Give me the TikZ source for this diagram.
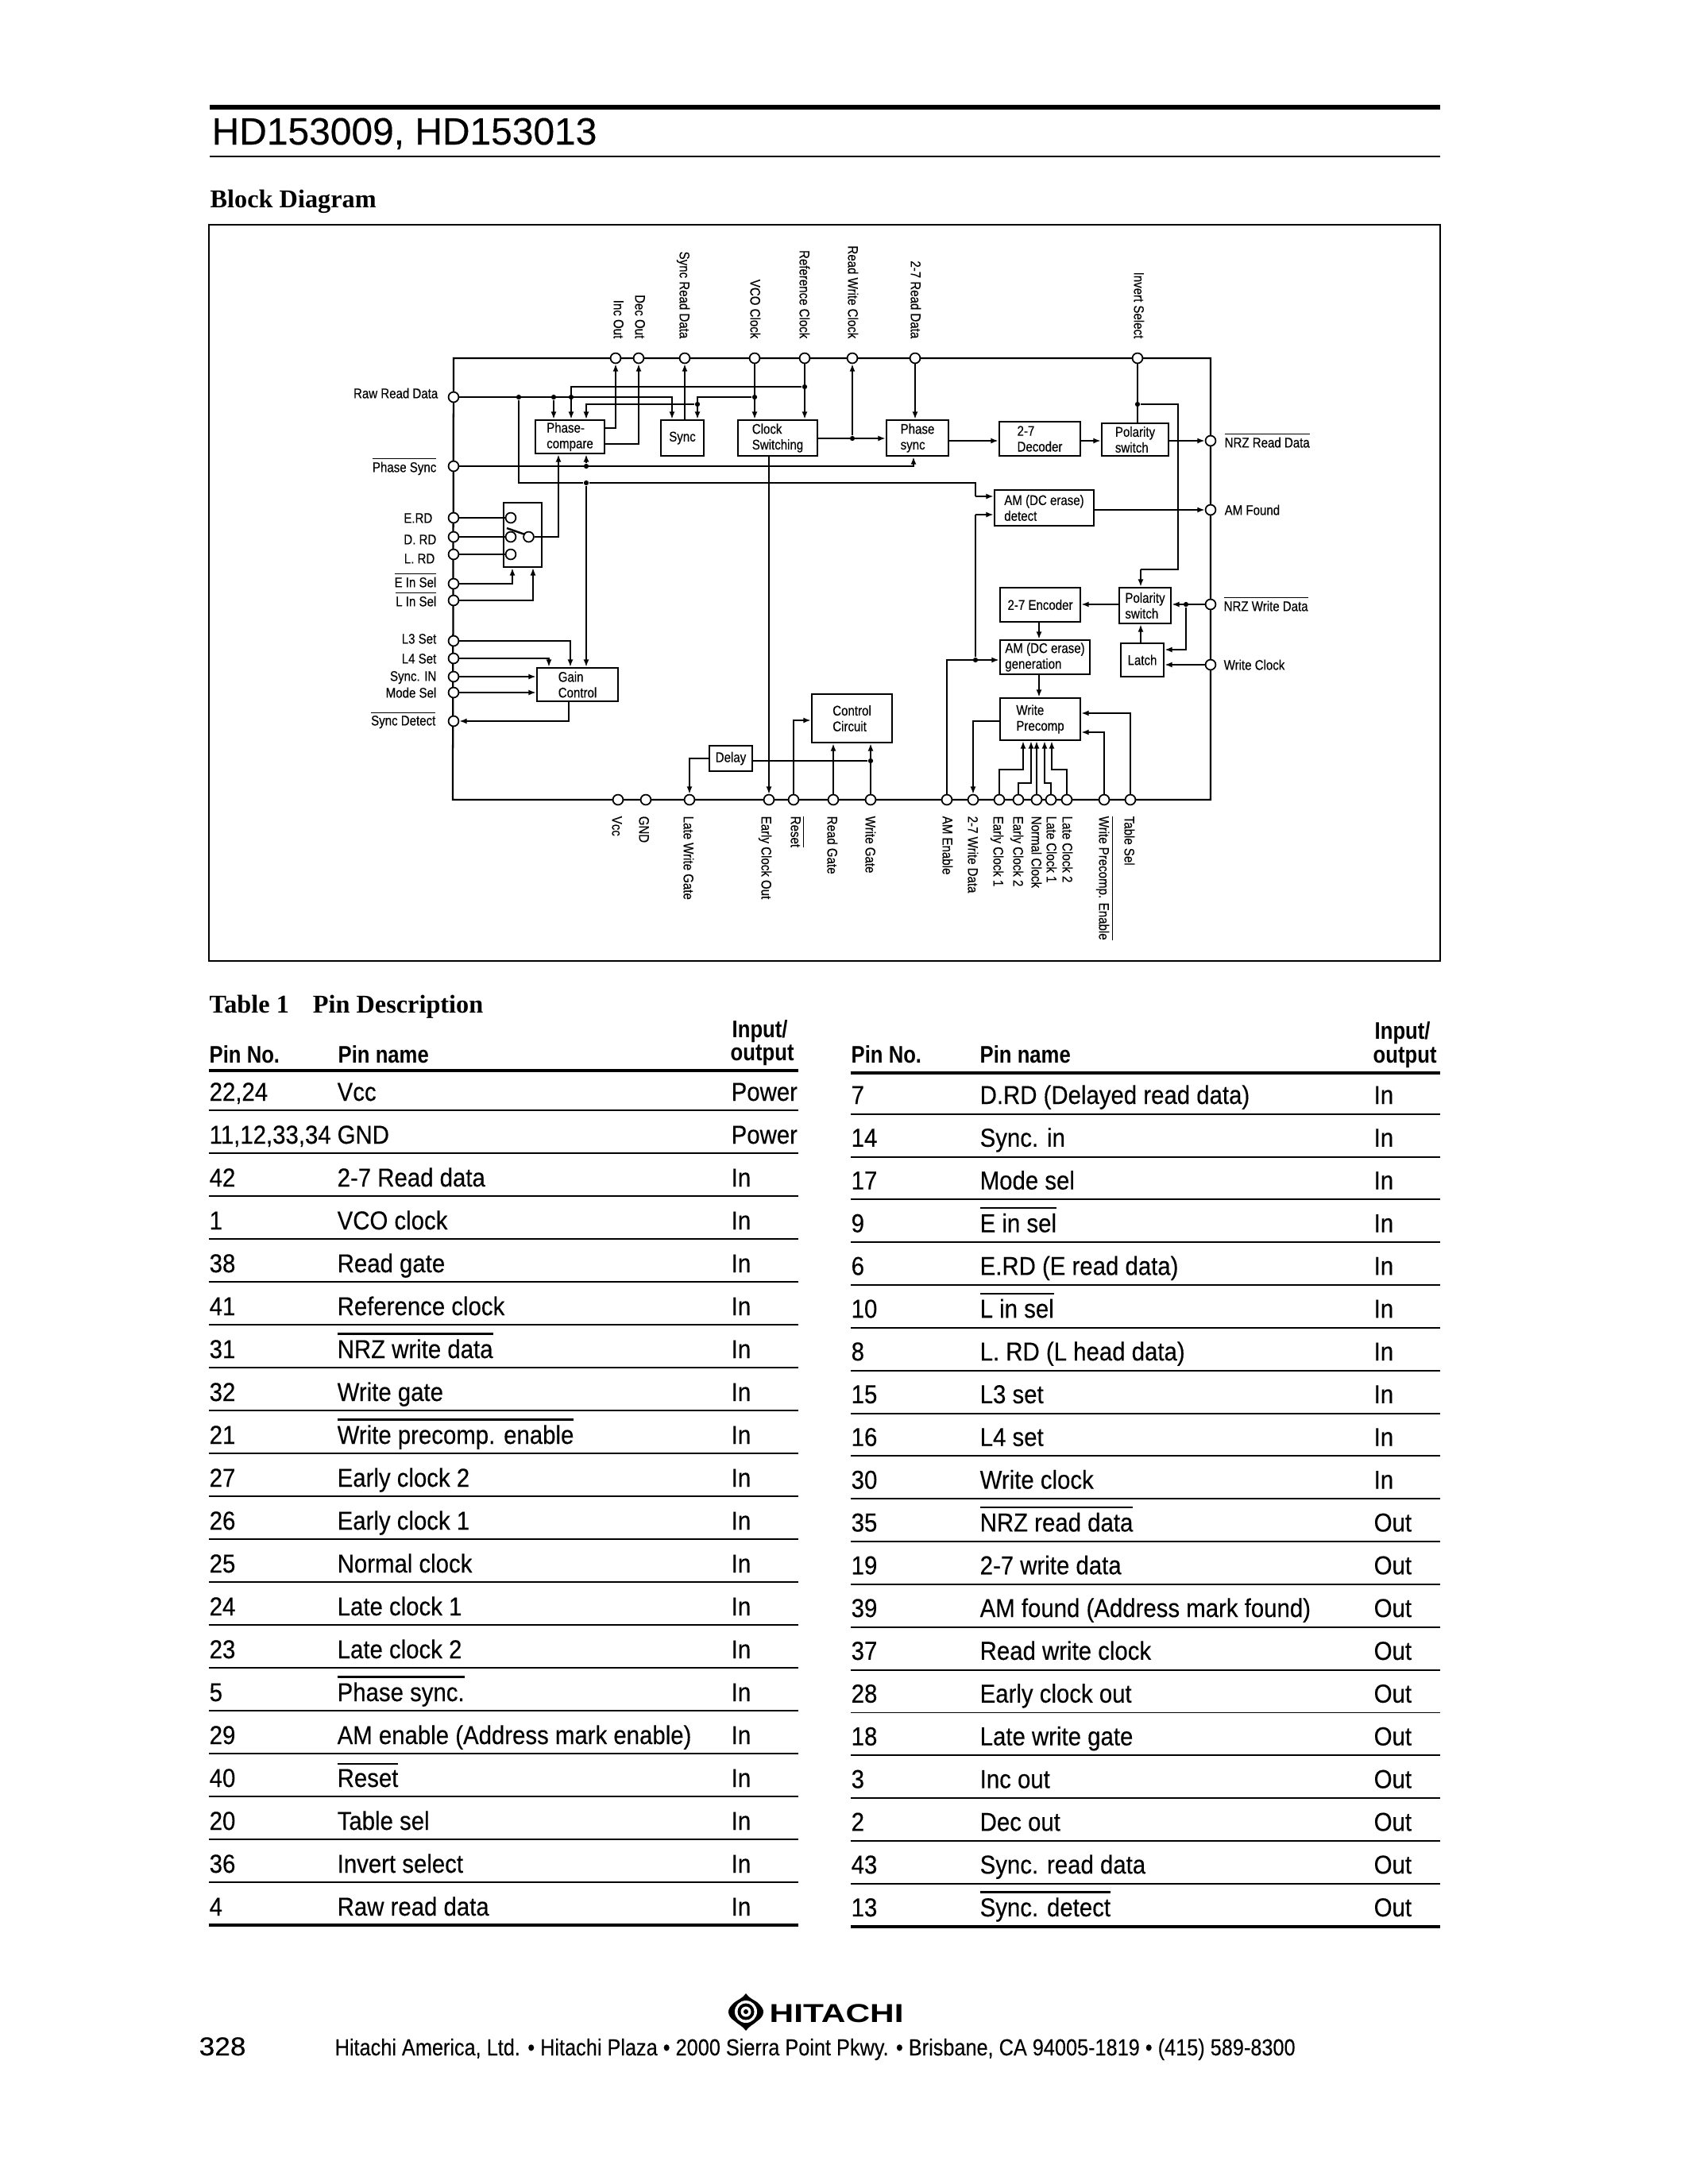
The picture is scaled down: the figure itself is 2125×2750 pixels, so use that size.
\documentclass[tikz,border=0pt]{standalone}
\usepackage{fontspec}
\usetikzlibrary{arrows.meta}
\setmainfont{Liberation Sans}
\newfontfamily\dgf[FakeStretch=0.85,FakeBold=0.25]{Liberation Sans}
\newfontfamily\tcf[FakeStretch=0.90,FakeBold=0.25]{Liberation Sans}
\newfontfamily\thf[FakeStretch=0.85]{Liberation Sans}
\newfontfamily\addrf[FakeStretch=0.867,FakeBold=0.15]{Liberation Sans}
\newfontfamily\wide[FakeStretch=1.3]{Liberation Sans}
\newfontfamily\pnof[FakeStretch=1.08,FakeBold=0.2]{Liberation Sans}
\newfontfamily\ttlf[FakeBold=0.3]{Liberation Sans}
\newfontfamily\srf{Liberation Serif}
\newcommand\ob[1]{\leavevmode\vbox{\hrule height 0.4pt\kern 0.9pt\hbox{#1}}}
\newcommand\tb[1]{\leavevmode\vbox{\hrule height 0.7pt\kern 1.6pt\hbox{#1}}}
\tikzset{
  x=0.288pt,y=-0.288pt,
  dgtext/.style={font=\dgf\fontsize{5.1}{5.7}\selectfont,inner sep=0pt},
  toplab/.style={dgtext,rotate=-90,anchor=east,text height=3.7pt,text depth=0pt},
  botlab/.style={dgtext,rotate=-90,anchor=west,text height=3.7pt,text depth=0pt},
  leftlab/.style={dgtext,anchor=east,text height=3.7pt,text depth=0pt},
  rightlab/.style={dgtext,anchor=west,text height=3.7pt,text depth=0pt},
  pin/.style={circle,draw,fill=white,line width=0.5pt,inner sep=0pt,minimum size=3.7pt},
  jdot/.style={circle,fill=black,inner sep=0pt,minimum size=1.8pt},
  blk/.style={draw,fill=white,line width=0.7pt,inner sep=0pt,align=left,dgtext},
  busl/.style={line width=0.65pt},
  wire/.style={line width=0.5pt},
  arr/.style={wire,-{Latex[length=2.7pt,width=2pt]}},
  tcell/.style={font=\tcf\fontsize{9.4}{10}\selectfont,inner sep=0pt,anchor=base west},
  thead/.style={font=\thf\bfseries\fontsize{8.7}{10}\selectfont,inner sep=0pt,anchor=base west},
  trule/.style={line width=0.55pt},
  tthick/.style={line width=1.05pt},
}
\newcommand\blkn[6]{\node[blk,minimum width={(#4-#2)*0.288pt},minimum height={(#5-#3)*0.288pt}] (#1) at ({(#2+#4)/2},{(#3+#5)/2}) {#6};}
\newcommand\lrow[4]{\pgfmathsetmacro\ry{1398+54*(#1-1)}
  \node[tcell] (la#1) at (263,\ry-12) {#2};
  \node[tcell] (lb#1) at (424,\ry-12) {#3};
  \node[tcell] (lc#1) at (920,\ry-12) {#4};
  \draw[trule] (263,\ry) -- (1005,\ry);}
\newcommand\rrow[4]{\pgfmathsetmacro\ry{1402.7+53.84*(#1-1)}
  \node[tcell] (ra#1) at (1071,\ry-12.7) {#2};
  \node[tcell] (rb#1) at (1233,\ry-12.7) {#3};
  \node[tcell] (rc#1) at (1729,\ry-12.7) {#4};
  \draw[trule] (1071,\ry) -- (1813,\ry);}
\begin{document}
\begin{tikzpicture}
\useasboundingbox (0,0) rectangle (2125,2750);
\fill[white] (0,0) rectangle (2125,2750);
% header
\draw[line width=1.45pt] (264,135) -- (1813,135);
\node[inner sep=0pt,anchor=base west,font=\ttlf\fontsize{13.8}{16}\selectfont] (title) at (266,182) {HD153009, HD153013};
\draw[line width=0.55pt] (264,197) -- (1813,197);
\node[inner sep=0pt,anchor=base west,font=\srf\bfseries\fontsize{9.3}{11}\selectfont] (bdtitle) at (264,261) {Block Diagram};
\draw[line width=0.55pt] (263,283) rectangle (1813,1210);
% outer pin bus
\coordinate (ctl) at (571,451);
\coordinate (ctr) at (1524,451);
\coordinate (cbr) at (1524,1007);
\coordinate (cbl) at (570,1007);
\draw[busl] (ctl) -- (ctr) -- (cbr) -- (cbl) -- cycle;
% top pins
\foreach \n/\x in {incout/775,decout/804,syncrd/862,vco/950,refclk/1013,rwclk/1073,rdtwo/1152,invert/1432}
  \node[pin] (\n) at (\x,451) {};
% left pins
\foreach \n/\y in {rawrd/500,phsync/587,erd/652,drd/676,lrd/698,einsel/735,linsel/756,lthree/807,lfour/829,syncin/852,modesel/872,syncdet/908}
  \node[pin] (\n) at (571,\y) {};
% bottom pins
\foreach \n/\x in {vcc/778,gnd/813,lwg/868,ecout/968,reset/999,rgate/1049,wgate/1096,amen/1192,wdtwo/1225,econe/1258,ectwo/1282,nclk/1305,lcone/1323,lctwo/1343,wpe/1390,tsel/1423}
  \node[pin] (\n) at (\x,1007) {};
% right pins
\foreach \n/\y in {nrzrd/555,amf/642,nrzwd/761,wck/837}
  \node[pin] (\n) at (1524,\y) {};
% top labels
\node[toplab] (tl1) at (779,427) {Inc Out};
\node[toplab] (tl2) at (806,427) {Dec Out};
\node[toplab] (tl3) at (862,427) {Sync Read Data};
\node[toplab] (tl4) at (951,427) {VCO Clock};
\node[toplab] (tl5) at (1013,427) {Reference Clock};
\node[toplab] (tl6) at (1074,427) {Read Write Clock};
\node[toplab] (tl7) at (1153,427) {2-7 Read Data};
\node[toplab] (tl8) at (1434,427) {Invert Select};
% left labels
\node[leftlab] (ll1) at (552,495) {Raw Read Data};
\node[leftlab] (ll2) at (550,588) {\ob{Phase Sync}};
\node[leftlab] (ll3) at (545,652) {E.RD};
\node[leftlab] (ll4) at (550,679) {D. RD};
\node[leftlab] (ll5) at (548,703) {L. RD};
\node[leftlab] (ll6) at (550,733) {\ob{E In Sel}};
\node[leftlab] (ll7) at (550,757) {\ob{L In Sel}};
\node[leftlab] (ll8) at (550,804) {L3 Set};
\node[leftlab] (ll9) at (550,829) {L4 Set};
\node[leftlab] (ll10) at (550,851) {Sync. IN};
\node[leftlab] (ll11) at (550,872) {Mode Sel};
\node[leftlab] (ll12) at (549,907) {\ob{Sync Detect}};
% right labels
\node[rightlab] (rl1) at (1541,557) {\ob{NRZ Read Data}};
\node[rightlab] (rl2) at (1541,642) {AM Found};
\node[rightlab] (rl3) at (1540,763) {\ob{NRZ Write Data}};
\node[rightlab] (rl4) at (1540,837) {Write Clock};
% bottom labels
\node[botlab] (bl1) at (777,1027) {Vcc};
\node[botlab] (bl2) at (811,1027) {GND};
\node[botlab] (bl3) at (867,1027) {Late Write Gate};
\node[botlab] (bl4) at (965,1027) {Early Clock Out};
\node[botlab] (bl5) at (1002,1027) {\ob{Reset}};
\node[botlab] (bl6) at (1048,1027) {Read Gate};
\node[botlab] (bl7) at (1096,1027) {Write Gate};
\node[botlab] (bl8) at (1193,1027) {AM Enable};
\node[botlab] (bl9) at (1225,1027) {2-7 Write Data};
\node[botlab] (bl10) at (1257,1027) {Early Clock 1};
\node[botlab] (bl11) at (1282,1027) {Early Clock 2};
\node[botlab] (bl12) at (1305,1027) {Normal Clock};
\node[botlab] (bl13) at (1324,1027) {Late Clock 1};
\node[botlab] (bl14) at (1344,1027) {Late Clock 2};
\node[botlab] (bl15) at (1390,1027) {\ob{Write Precomp. Enable}};
\node[botlab] (bl16) at (1422,1027) {Table Sel};
% blocks
\blkn{pc}{674}{529}{761}{571}{Phase-\\compare}
\blkn{sy}{832}{529}{886}{574}{Sync}
\blkn{cs}{929}{529}{1029}{574}{Clock\\Switching}
\blkn{ps}{1116}{529}{1194}{574}{Phase\\sync}
\blkn{dc}{1258}{531}{1360}{574}{2-7\\Decoder}
\blkn{pol}{1387}{533}{1471}{574}{Polarity\\switch}
\blkn{ad}{1252}{617}{1377}{662}{AM (DC erase)\\detect}
\blkn{en}{1259}{740}{1360}{783}{2-7 Encoder}
\blkn{pot}{1409}{740}{1474}{785}{Polarity\\switch}
\blkn{ag}{1259}{806}{1372}{849}{AM (DC erase)\\generation}
\blkn{la}{1411}{810}{1465}{852}{Latch}
\blkn{wp}{1259}{879}{1360}{932}{Write\\Precomp}
\blkn{cc}{1022}{874}{1123}{935}{Control\\Circuit}
\blkn{dl}{893}{939}{947}{971}{Delay}
\blkn{gc}{676}{841}{778}{883}{Gain\\Control}
\blkn{sw}{634}{633}{682}{714}{}
% switch
\node[pin] (cone) at (643,652) {};
\node[pin] (ctwo) at (643,676) {};
\node[pin] (cthree) at (643,698) {};
\node[pin] (cfour) at (665.5,676) {};
\draw[line width=0.7pt] (638,665) -- (661,673);
\draw[wire] (erd) -- (cone);
\draw[wire] (drd) -- (ctwo);
\draw[wire] (lrd) -- (cthree);
\draw[arr] (cfour) -| (703,0 |- pc.south);
\draw[arr] (einsel) -| (645,0 |- sw.south);
\draw[arr,line width=0.4pt] (linsel) -| (671,0 |- sw.south);
% junctions
\node[jdot] (jraw) at (653,500) {};
\node[jdot] (jcmpa) at (697,500) {};
\node[jdot] (jcmpb) at (719,500) {};
\node[jdot] (jvco) at (950,500) {};
\node[jdot] (jsync) at (878,509) {};
\node[jdot] (jref) at (1013,487) {};
\node[jdot] (jrw) at (1073,552) {};
\node[jdot] (jph) at (738,587) {};
\node[jdot] (jgc) at (738,608) {};
\node[jdot] (jinv) at (1432,509) {};
\node[jdot] (jam) at (1228,831) {};
\node[jdot] (jwd) at (1493,761) {};
\node[jdot] (jwg) at (1096,958) {};
% raw read data net
\draw[arr] (rawrd) -| (846,0 |- sy.north);
\draw[arr] (jcmpa) -- (jcmpa |- pc.north);
\draw[arr] (jref) -| (719,0 |- pc.north);
\draw[wire] (jraw) |- (jgc) -- (1228,608) -- (1228,625);
\draw[arr] (1228,625) -- (ad.west |- 0,625);
\draw[arr] (jvco) -| (878,0 |- sy.north);
\draw[arr,line width=0.4pt] (jsync) -| (738,0 |- pc.north);
\draw[arr] (862,0 |- sy.north) -- (syncrd);
\draw[arr] (pc.east |- 0,539) -| (incout);
\draw[arr] (pc.east |- 0,559) -| (decout);
\draw[arr] (vco) -- (950,0 |- cs.north);
\draw[arr] (refclk) -- (1013,0 |- cs.north);
\draw[arr] (jrw) -- (rwclk);
\draw[arr] (rdtwo) -- (1152,0 |- ps.north);
\draw[arr] (cs.east |- jrw) -- (ps.west |- jrw);
\draw[arr] (ps.east |- 0,555) -- (dc.west |- 0,555);
\draw[arr] (dc.east |- 0,555) -- (pol.west |- 0,555);
\draw[arr] (pol.east |- 0,555) -- (nrzrd);
% phase sync
\draw[arr] (phsync) -| (1150,0 |- ps.south);
\draw[arr] (jph) -- (738,0 |- pc.south);
\draw[arr] (jgc) -- (738,0 |- gc.north);
% invert select
\draw[wire] (invert) -- (1432,0 |- pol.north);
\draw[wire,line width=0.4pt] (jinv) -| (1483,717) -- (1436,717);
\draw[arr] (1436,717) -- (1436,0 |- pot.north);
% clock switching to early clock out
\draw[arr,line width=0.4pt] (968,0 |- cs.south) -- (ecout);
% gain control
\draw[arr] (lthree) -| (718,0 |- gc.north);
\draw[arr] (lfour) -| (691,0 |- gc.north);
\draw[arr] (syncin) -- (gc.west |- syncin);
\draw[arr] (modesel) -- (gc.west |- modesel);
\draw[arr] (716,0 |- gc.south) |- (syncdet);
% delay and control
\draw[arr] (dl.west |- 0,955) -| (lwg);
\draw[wire] (dl.east |- jwg) -- (jwg);
\draw[arr] (wgate) -- (1096,0 |- cc.south);
\draw[arr] (rgate) -- (1049,0 |- cc.south);
\draw[arr] (reset) |- (cc.west |- 0,907);
% am
\draw[arr] (amen) |- (ag.west |- jam);
\draw[wire,line width=0.4pt] (jam) -- (1228,648);
\draw[arr] (1228,648) -- (ad.west |- 0,648);
\draw[arr] (ad.east |- amf) -- (amf);
% write path
\draw[arr] (pot.west |- nrzwd) -- (en.east |- nrzwd);
\draw[arr] (1308,0 |- en.south) -- (1308,0 |- ag.north);
\draw[arr] (1308,0 |- ag.south) -- (1308,0 |- wp.north);
\draw[arr] (nrzwd) -- (pot.east |- nrzwd);
\draw[arr] (jwd) |- (la.east |- 0,818);
\draw[arr] (wck) -- (la.east |- wck);
\draw[arr] (1436,0 |- la.north) -- (1436,0 |- pot.south);
\draw[arr,line width=0.4pt] (wp.west |- 0,908) -| (wdtwo);
\draw[arr] (tsel) |- (wp.east |- 0,898);
\draw[arr] (wpe) |- (wp.east |- 0,922);
\draw[arr] (econe) |- (1288,969) -- (1288,0 |- wp.south);
\draw[arr] (ectwo) |- (1298,986) -- (1298,0 |- wp.south);
\draw[arr] (nclk) -- (1305,0 |- wp.south);
\draw[arr] (lcone) |- (1315,986) -- (1315,0 |- wp.south);
\draw[arr] (lctwo) |- (1324,969) -- (1324,0 |- wp.south);
% table title and headers
\node[inner sep=0pt,anchor=base west,font=\srf\bfseries\fontsize{9.3}{11}\selectfont] (tt) at (263,1275) {Table 1\hspace{0.93em}Pin Description};
\node[thead] (h1) at (263,1338) {Pin No.};
\node[thead] (h2) at (425,1338) {Pin name};
\node[thead] (h3) at (921,1306) {Input/};
\node[thead] (h4) at (919,1335) {output};
\draw[tthick] (263,1348) -- (1005,1348);
\node[thead] (h5) at (1071,1338) {Pin No.};
\node[thead] (h6) at (1233,1338) {Pin name};
\node[thead] (h7) at (1730,1308) {Input/};
\node[thead] (h8) at (1728,1338) {output};
\draw[tthick] (1071,1351) -- (1813,1351);
% left table
\lrow{1}{22,24}{Vcc}{Power}
\lrow{2}{11,12,33,34}{GND}{Power}
\lrow{3}{42}{2-7 Read data}{In}
\lrow{4}{1}{VCO clock}{In}
\lrow{5}{38}{Read gate}{In}
\lrow{6}{41}{Reference clock}{In}
\lrow{7}{31}{\tb{NRZ write data}}{In}
\lrow{8}{32}{Write gate}{In}
\lrow{9}{21}{\tb{Write precomp. enable}}{In}
\lrow{10}{27}{Early clock 2}{In}
\lrow{11}{26}{Early clock 1}{In}
\lrow{12}{25}{Normal clock}{In}
\lrow{13}{24}{Late clock 1}{In}
\lrow{14}{23}{Late clock 2}{In}
\lrow{15}{5}{\tb{Phase sync.}}{In}
\lrow{16}{29}{AM enable (Address mark enable)}{In}
\lrow{17}{40}{\tb{Reset}}{In}
\lrow{18}{20}{Table sel}{In}
\lrow{19}{36}{Invert select}{In}
\lrow{20}{4}{Raw read data}{In}
\draw[tthick] (263,2424) -- (1005,2424);
% right table
\rrow{1}{7}{D.RD (Delayed read data)}{In}
\rrow{2}{14}{Sync. in}{In}
\rrow{3}{17}{Mode sel}{In}
\rrow{4}{9}{\tb{E in sel}}{In}
\rrow{5}{6}{E.RD (E read data)}{In}
\rrow{6}{10}{\tb{L in sel}}{In}
\rrow{7}{8}{L. RD (L head data)}{In}
\rrow{8}{15}{L3 set}{In}
\rrow{9}{16}{L4 set}{In}
\rrow{10}{30}{Write clock}{In}
\rrow{11}{35}{\tb{NRZ read data}}{Out}
\rrow{12}{19}{2-7 write data}{Out}
\rrow{13}{39}{AM found (Address mark found)}{Out}
\rrow{14}{37}{Read write clock}{Out}
\rrow{15}{28}{Early clock out}{Out}
\rrow{16}{18}{Late write gate}{Out}
\rrow{17}{3}{Inc out}{Out}
\rrow{18}{2}{Dec out}{Out}
\rrow{19}{43}{Sync. read data}{Out}
\rrow{20}{13}{\tb{Sync. detect}}{Out}
\draw[tthick] (1071,2425.7) -- (1813,2425.7);
% footer
\fill (939,2510) .. controls (943,2516) and (949,2518) .. (953,2521) .. controls (959,2526) and (961,2530) .. (961,2533) .. controls (961,2537) and (959,2541) .. (953,2545) .. controls (949,2549) and (943,2551) .. (939,2557) .. controls (935,2551) and (929,2549) .. (925,2545) .. controls (919,2541) and (917,2537) .. (917,2533) .. controls (917,2530) and (919,2526) .. (925,2521) .. controls (929,2518) and (935,2516) .. (939,2510) -- cycle;
\fill[white] (939,2533) circle[radius=14];
\fill (939,2533) circle[radius=10.5];
\fill[white] (939,2533) circle[radius=6.5];
\fill (939,2533) circle[radius=3];
\node[inner sep=0pt,anchor=base west,font=\wide\bfseries\fontsize{9.4}{11}\selectfont] (hit) at (968,2546) {HITACHI};
\node[inner sep=0pt,anchor=base west,font=\pnof\fontsize{9.4}{11}\selectfont] (pageno) at (250,2588) {328};
\node[inner sep=0pt,anchor=base west,font=\addrf\fontsize{8.4}{10}\selectfont] (addr) at (421,2588) {Hitachi America, Ltd. • Hitachi Plaza • 2000 Sierra Point Pkwy. • Brisbane, CA 94005-1819 • (415) 589-8300};
\end{tikzpicture}
\end{document}
